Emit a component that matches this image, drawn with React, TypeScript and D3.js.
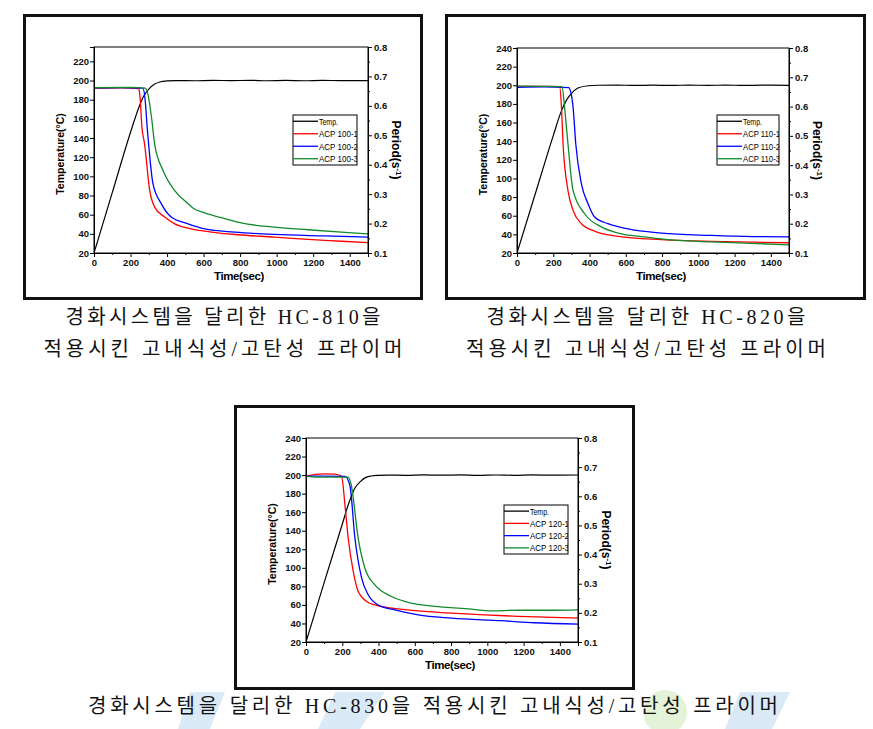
import { useEffect, useRef } from "react";
import * as d3 from "d3";

type Pt = [number, number];

// axis ticks
const TIME_TICKS = [0, 200, 400, 600, 800, 1000, 1200, 1400];
const TIME_MINOR = [100, 300, 500, 700, 900, 1100, 1300, 1500];
const TEMP_TICKS_A = [20, 40, 60, 80, 100, 120, 140, 160, 180, 200, 220];
const TEMP_TICKS_B = [20, 40, 60, 80, 100, 120, 140, 160, 180, 200, 220, 240];
const PERIOD_TICKS = [0.1, 0.2, 0.3, 0.4, 0.5, 0.6, 0.7, 0.8];
const PERIOD_MINOR = [0.15, 0.25, 0.35, 0.45, 0.55, 0.65, 0.75];

// HC-810 (temperature on left axis, periods on right axis)
const P1_TEMP: Pt[] = [[0, 20], [100, 83], [200, 146], [240, 169], [270, 183], [300, 191], [330, 196], [360, 198.5], [400, 199.7], [450, 200], [550, 199.8], [650, 200.2], [750, 199.9], [850, 200.2], [950, 199.8], [1050, 200.1], [1150, 199.8], [1250, 200.2], [1350, 199.9], [1500, 200]];
const P1_ACP1: Pt[] = [[0, 0.66], [150, 0.661], [245, 0.659], [252, 0.63], [262, 0.53], [277, 0.47], [305, 0.312], [332, 0.256], [387, 0.222], [442, 0.199], [533, 0.182], [642, 0.171], [788, 0.162], [989, 0.154], [1172, 0.146], [1354, 0.14], [1500, 0.135]];
const P1_ACP2: Pt[] = [[0, 0.661], [150, 0.662], [268, 0.66], [280, 0.62], [292, 0.52], [299, 0.47], [323, 0.335], [369, 0.267], [423, 0.222], [515, 0.199], [606, 0.182], [770, 0.171], [989, 0.163], [1263, 0.158], [1500, 0.154]];
const P1_ACP3: Pt[] = [[0, 0.662], [200, 0.663], [280, 0.66], [295, 0.64], [315, 0.56], [332, 0.47], [378, 0.38], [442, 0.312], [510, 0.27], [545, 0.251], [606, 0.236], [715, 0.217], [806, 0.202], [989, 0.188], [1172, 0.179], [1354, 0.171], [1500, 0.165]];

// HC-820
const P2_TEMP: Pt[] = [[0, 20], [100, 83], [200, 146], [244, 172], [270, 183], [290, 189], [336, 197], [392, 199.5], [450, 200], [550, 200.2], [650, 199.8], [750, 200.1], [850, 199.8], [950, 200.2], [1050, 199.9], [1150, 200.2], [1250, 199.8], [1350, 200.1], [1500, 199.9]];
const P2_ACP1: Pt[] = [[0, 0.669], [150, 0.669], [235, 0.668], [245, 0.6], [254, 0.473], [281, 0.314], [309, 0.246], [355, 0.2], [428, 0.175], [557, 0.157], [796, 0.146], [1072, 0.14], [1300, 0.137], [1500, 0.135]];
const P2_ACP2: Pt[] = [[0, 0.666], [150, 0.667], [285, 0.665], [300, 0.64], [309, 0.6], [324, 0.473], [355, 0.337], [392, 0.268], [428, 0.223], [502, 0.2], [612, 0.182], [796, 0.168], [1072, 0.16], [1300, 0.156], [1500, 0.155]];
const P2_ACP3: Pt[] = [[0, 0.67], [150, 0.669], [248, 0.668], [262, 0.6], [281, 0.473], [309, 0.314], [373, 0.234], [465, 0.189], [557, 0.168], [704, 0.155], [888, 0.143], [1072, 0.138], [1255, 0.134], [1500, 0.128]];

// HC-830
const P3_TEMP: Pt[] = [[0, 20], [100, 84], [200, 147], [233, 168], [270, 186], [300, 193], [325, 197], [360, 199], [398, 199.7], [450, 200], [550, 199.8], [650, 200.2], [750, 199.9], [850, 200.2], [950, 199.7], [1050, 200.1], [1150, 199.8], [1250, 200.2], [1350, 199.9], [1500, 200.1]];
const P3_ACP1: Pt[] = [[0, 0.669], [50, 0.675], [100, 0.677], [160, 0.676], [196, 0.669], [215, 0.569], [233, 0.455], [261, 0.341], [288, 0.273], [334, 0.239], [380, 0.227], [472, 0.216], [619, 0.207], [802, 0.199], [986, 0.193], [1170, 0.188], [1500, 0.182]];
const P3_ACP2: Pt[] = [[0, 0.669], [100, 0.669], [215, 0.668], [242, 0.637], [270, 0.455], [307, 0.319], [343, 0.262], [398, 0.227], [490, 0.21], [619, 0.193], [802, 0.182], [1077, 0.173], [1261, 0.166], [1500, 0.161]];
const P3_ACP3: Pt[] = [[0, 0.669], [60, 0.666], [150, 0.666], [233, 0.666], [250, 0.637], [288, 0.455], [325, 0.353], [380, 0.296], [472, 0.256], [582, 0.233], [711, 0.222], [894, 0.214], [1004, 0.207], [1170, 0.209], [1353, 0.209], [1500, 0.21]];

const LABELS_1 = ["Temp.", "ACP 100-1", "ACP 100-2", "ACP 100-3"];
const LABELS_2 = ["Temp.", "ACP 110-1", "ACP 110-2", "ACP 110-3"];
const LABELS_3 = ["Temp.", "ACP 120-1", "ACP 120-2", "ACP 120-3"];

const CAPTION_1 = ["경화시스템을 달리한 HC-810을", "적용시킨 고내식성/고탄성 프라이머"];
const CAPTION_2 = ["경화시스템을 달리한 HC-820을", "적용시킨 고내식성/고탄성 프라이머"];
const CAPTION_3 = ["경화시스템을 달리한 HC-830을 적용시킨 고내식성/고탄성 프라이머"];

const COLORS = ["#000000", "#ff0000", "#0000ff", "#128a2c"];
const AXIS_FONT = "'Liberation Sans Narrow', 'Liberation Sans', Arial, sans-serif";
const CAPTION_FONT = "'Liberation Serif', 'Noto Sans CJK KR', serif";

interface PanelProps {
  id: string;
  frame: { x: number; y: number; w: number; h: number };
  plot: { x0: number; x1: number; y0: number; y1: number };
  tempMax: number;
  tempTicks: number[];
  temp: Pt[];
  periods: Pt[][];
  labels: string[];
  legend: { x: number; y: number; w: number; h: number };
}

function Panel({ id, frame, plot, tempMax, tempTicks, temp, periods, labels, legend }: PanelProps) {
  const gRef = useRef<SVGGElement>(null);

  useEffect(() => {
    if (!gRef.current) return;
    const g = d3.select(gRef.current);
    g.selectAll("*").remove();

    const x = d3.scaleLinear().domain([0, 1500]).range([plot.x0, plot.x1]);
    const yT = d3.scaleLinear().domain([20, tempMax]).range([plot.y1, plot.y0]);
    const yP = d3.scaleLinear().domain([0.1, 0.8]).range([plot.y1, plot.y0]);

    // outer frame
    g.append("rect")
      .attr("x", frame.x + 1.5)
      .attr("y", frame.y + 1.5)
      .attr("width", frame.w - 3)
      .attr("height", frame.h - 3)
      .attr("fill", "#fff")
      .attr("stroke", "#111")
      .attr("stroke-width", 3);

    const styleAxis = (sel: d3.Selection<SVGGElement, unknown, null, undefined>) => {
      sel.selectAll("text")
        .attr("font-family", AXIS_FONT)
        .attr("font-size", 9.5)
        .attr("font-weight", "bold")
        .attr("fill", "#111");
      sel.selectAll("line,path").attr("stroke", "#000");
    };

    // curves
    const lineT = d3.line<Pt>().x((d) => x(d[0])).y((d) => yT(d[1])).curve(d3.curveMonotoneX);
    const lineP = d3.line<Pt>().x((d) => x(d[0])).y((d) => yP(d[1])).curve(d3.curveMonotoneX);

    const clipId = `clip-${id}`;
    g.append("clipPath").attr("id", clipId)
      .append("rect")
      .attr("x", plot.x0).attr("y", plot.y0)
      .attr("width", plot.x1 - plot.x0).attr("height", plot.y1 - plot.y0);

    const curves = g.append("g").attr("clip-path", `url(#${clipId})`);
    curves.append("path").datum(temp)
      .attr("d", lineT).attr("fill", "none")
      .attr("stroke", COLORS[0]).attr("stroke-width", 1.2);
    periods.forEach((s, i) => {
      curves.append("path").datum(s)
        .attr("d", lineP).attr("fill", "none")
        .attr("stroke", COLORS[i + 1]).attr("stroke-width", 1.3);
    });

    // plot box
    g.append("rect")
      .attr("x", plot.x0).attr("y", plot.y0)
      .attr("width", plot.x1 - plot.x0).attr("height", plot.y1 - plot.y0)
      .attr("fill", "none").attr("stroke", "#000").attr("stroke-width", 1);

    // axes
    const left = g.append("g").attr("transform", `translate(${plot.x0},0)`)
      .call(d3.axisLeft(yT).tickValues(tempTicks).tickSize(4).tickPadding(1).tickFormat(d3.format("d")));
    styleAxis(left);

    const bottom = g.append("g").attr("transform", `translate(0,${plot.y1})`)
      .call(d3.axisBottom(x).tickValues(TIME_TICKS).tickSize(4).tickPadding(2).tickFormat(d3.format("d")));
    styleAxis(bottom);
    const bottomMinor = g.append("g").attr("transform", `translate(0,${plot.y1})`)
      .call(d3.axisBottom(x).tickValues(TIME_MINOR).tickSize(2).tickFormat(() => ""));
    styleAxis(bottomMinor);

    const right = g.append("g").attr("transform", `translate(${plot.x1},0)`)
      .call(d3.axisRight(yP).tickValues(PERIOD_TICKS).tickSize(4).tickPadding(2).tickFormat(d3.format(".1f")));
    styleAxis(right);
    const rightMinor = g.append("g").attr("transform", `translate(${plot.x1},0)`)
      .call(d3.axisRight(yP).tickValues(PERIOD_MINOR).tickSize(2).tickFormat(() => ""));
    styleAxis(rightMinor);

    // axis titles
    const cy = (plot.y0 + plot.y1) / 2;
    g.append("text")
      .attr("transform", `translate(${plot.x0 - 30},${cy + 4}) rotate(-90)`)
      .attr("text-anchor", "middle")
      .attr("font-family", AXIS_FONT).attr("font-size", 10.5).attr("font-weight", "bold")
      .text("Temperature(°C)");
    const pt = g.append("text")
      .attr("transform", `translate(${plot.x1 + 24},${cy}) rotate(90)`)
      .attr("text-anchor", "middle")
      .attr("font-family", AXIS_FONT).attr("font-size", 12).attr("font-weight", "bold");
    pt.append("tspan").text("Period(s");
    pt.append("tspan").attr("baseline-shift", "super").attr("font-size", 8).text("-1");
    pt.append("tspan").text(")");
    g.append("text")
      .attr("x", (plot.x0 + plot.x1) / 2 + 8)
      .attr("y", plot.y1 + 27)
      .attr("text-anchor", "middle")
      .attr("font-family", AXIS_FONT).attr("font-size", 11.5).attr("font-weight", "bold")
      .attr("letter-spacing", -0.4)
      .text("Time(sec)");

    // legend
    const legClip = `legclip-${id}`;
    g.append("clipPath").attr("id", legClip)
      .append("rect").attr("x", legend.x).attr("y", legend.y)
      .attr("width", legend.w).attr("height", legend.h);
    const lg = g.append("g");
    lg.append("rect")
      .attr("x", legend.x).attr("y", legend.y)
      .attr("width", legend.w).attr("height", legend.h)
      .attr("fill", "#fff").attr("stroke", "#000").attr("stroke-width", 1);
    const rowH = legend.h / labels.length;
    const items = lg.append("g").attr("clip-path", `url(#${legClip})`);
    labels.forEach((lab, i) => {
      const yy = legend.y + rowH * (i + 0.5);
      items.append("line")
        .attr("x1", legend.x).attr("x2", legend.x + 25)
        .attr("y1", yy).attr("y2", yy)
        .attr("stroke", COLORS[i]).attr("stroke-width", 1.3);
      items.append("text")
        .attr("x", legend.x + 26).attr("y", yy + 3.5)
        .attr("font-family", AXIS_FONT).attr("font-size", 9.5)
        .attr("textLength", i === 0 ? 19 : legend.w - 25)
        .attr("lengthAdjust", "spacingAndGlyphs")
        .text(lab);
    });
  }, [id, frame, plot, tempMax, tempTicks, temp, periods, labels, legend]);

  return <g ref={gRef} />;
}

function Caption({ lines, cx, y0, lh, widths }: { lines: string[]; cx: number; y0: number; lh: number; widths: number[] }) {
  return (
    <g>
      {lines.map((l, i) => (
        <text
          key={i}
          x={cx}
          y={y0 + i * lh}
          textAnchor="middle"
          fontFamily={CAPTION_FONT}
          fontSize={20}
          textLength={widths[i]}
          lengthAdjust="spacing"
          fill="#111"
        >
          {l}
        </text>
      ))}
    </g>
  );
}

export default function App() {
  return (
    <svg width={873} height={729} style={{ position: "absolute", left: 0, top: 0, background: "#fff" }}>
      <Panel
        id="p1"
        frame={{ x: 23, y: 14, w: 400, h: 286 }}
        plot={{ x0: 94, x1: 368, y0: 47, y1: 253 }}
        tempMax={235}
        tempTicks={TEMP_TICKS_A}
        temp={P1_TEMP}
        periods={[P1_ACP1, P1_ACP2, P1_ACP3]}
        labels={LABELS_1}
        legend={{ x: 293, y: 115, w: 64, h: 50 }}
      />
      <Panel
        id="p2"
        frame={{ x: 445, y: 14, w: 421, h: 286 }}
        plot={{ x0: 517, x1: 789, y0: 48, y1: 253 }}
        tempMax={240}
        tempTicks={TEMP_TICKS_B}
        temp={P2_TEMP}
        periods={[P2_ACP1, P2_ACP2, P2_ACP3]}
        labels={LABELS_2}
        legend={{ x: 717, y: 115, w: 62, h: 50 }}
      />
      <Panel
        id="p3"
        frame={{ x: 234, y: 405, w: 401, h: 285 }}
        plot={{ x0: 306, x1: 578, y0: 438, y1: 642 }}
        tempMax={240}
        tempTicks={TEMP_TICKS_B}
        temp={P3_TEMP}
        periods={[P3_ACP1, P3_ACP2, P3_ACP3]}
        labels={LABELS_3}
        legend={{ x: 504, y: 505, w: 64, h: 49 }}
      />
      {/* faint watermark shapes behind the lower caption */}
      <g opacity={0.55}>
        <polygon points="190,692 225,692 210,729 178,729" fill="#bcd8ee" />
        <polygon points="335,692 385,692 360,729 318,729" fill="#bcd8ee" />
        <circle cx={665} cy={712} r={22} fill="#cfe8b8" />
        <polygon points="740,692 790,692 772,729 725,729" fill="#bcd8ee" />
      </g>
      <Caption lines={CAPTION_1} cx={223} y0={324} lh={32} widths={[315, 359]} />
      <Caption lines={CAPTION_2} cx={646} y0={324} lh={32} widths={[319, 360]} />
      <Caption lines={CAPTION_3} cx={433} y0={713} lh={32} widths={[690]} />
    </svg>
  );
}
